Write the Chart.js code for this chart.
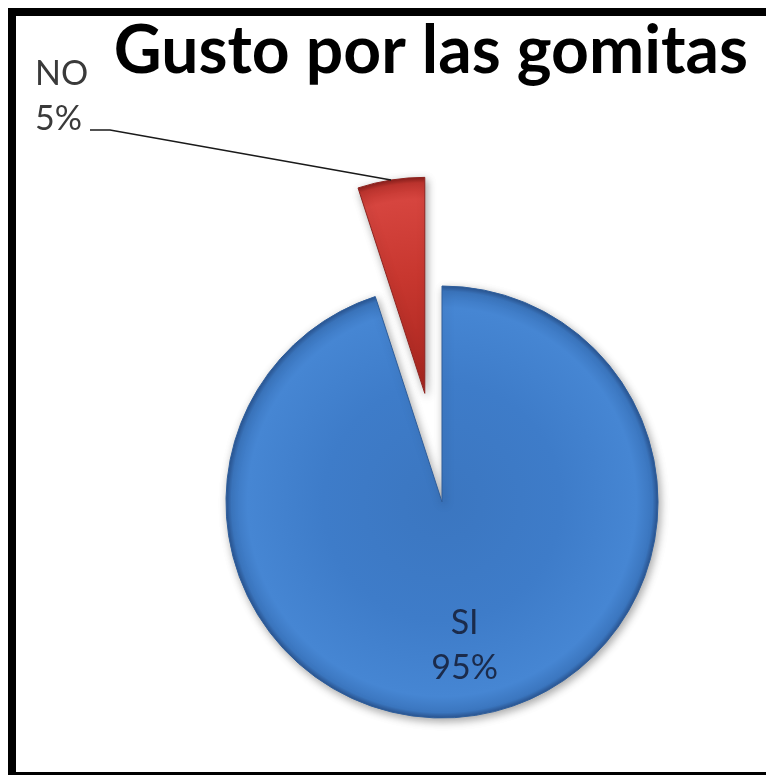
<!DOCTYPE html>
<html>
<head>
<meta charset="utf-8">
<script src="https://cdn.jsdelivr.net/npm/chart.js@4.4.1/dist/chart.umd.min.js"></script>
<style>
  html, body { margin: 0; padding: 0; background: #fff; }
  canvas { display: block; }
</style>
</head>
<body>
<canvas id="c" width="766" height="775"></canvas>
<script>
// ---- data ----
const chartTitle = 'Gusto por las gomitas';
const categories = ['SI', 'NO'];
const values = [95, 5];

// ---- style ----
const PIE_RADIUS = 216;
const shades = [
  ['#3b76c0', '#3e7cc9', '#4686d3', '#3b76bf', '#2a5592'],
  ['#a8261f', '#c8372f', '#d6453f', '#c0352f', '#8a201c']
];
const borderColors = ['#2e5e9c', '#8e2420'];

// Pie controller whose slices can be pulled out by a given distance
const PieCtl = Chart.PieController || Chart.controllers.pie;
class ExplodedPieController extends PieCtl {
  draw() {
    const ctx = this.chart.ctx;
    const meta = this._cachedMeta;
    const explode = this.getDataset().explode || [];
    meta.data.forEach((arc, i) => {
      const e = explode[i] || 0;
      const mid = (arc.startAngle + arc.endAngle) / 2;
      ctx.save();
      ctx.translate(Math.cos(mid) * e, Math.sin(mid) * e);
      arc.draw(ctx, this.chart.chartArea);
      ctx.restore();
    });
  }
}
ExplodedPieController.id = 'explodedPie';
ExplodedPieController.defaults = PieCtl.defaults;
ExplodedPieController.overrides = PieCtl.overrides;
Chart.register(ExplodedPieController);

function sliceFill(c) {
  const chart = c.chart;
  const a = chart.chartArea;
  const s = shades[c.dataIndex % shades.length];
  if (!a) return s[1];
  const cx = (a.left + a.right) / 2, cy = (a.top + a.bottom) / 2;
  const g = chart.ctx.createRadialGradient(cx, cy, 0, cx, cy, PIE_RADIUS);
  g.addColorStop(0, s[0]);
  g.addColorStop(0.55, s[1]);
  g.addColorStop(0.9, s[2]);
  g.addColorStop(0.975, s[3]);
  g.addColorStop(1, s[4]);
  return g;
}

const framePlugin = {
  id: 'frame',
  beforeDraw(chart) {
    const ctx = chart.ctx;
    ctx.save();
    ctx.fillStyle = '#ffffff';
    ctx.fillRect(0, 0, chart.width, chart.height);
    ctx.fillStyle = '#000000';
    ctx.fillRect(8, 8, 8, chart.height - 8);
    ctx.fillRect(8, 8, chart.width - 8, 8);
    ctx.fillRect(8, chart.height - 3, chart.width - 8, 3);
    ctx.restore();
  },
  afterDraw(chart) {
    const ctx = chart.ctx;
    ctx.save();
    ctx.fillStyle = '#000000';
    ctx.font = 'bold 66px Lato, "Open Sans", sans-serif';
    ctx.textAlign = 'right';
    ctx.textBaseline = 'alphabetic';
    ctx.fillText(chartTitle, 748, 73);
    ctx.restore();
  }
};

const shadowPlugin = {
  id: 'pieShadow',
  beforeDatasetDraw(chart) {
    const ctx = chart.ctx;
    ctx.save();
    ctx.shadowColor = 'rgba(0,0,0,0.35)';
    ctx.shadowBlur = 8;
    ctx.shadowOffsetX = 2;
    ctx.shadowOffsetY = 3;
  },
  afterDatasetDraw(chart) {
    chart.ctx.restore();
  }
};

const labelPlugin = {
  id: 'sliceLabels',
  afterDatasetsDraw(chart) {
    const ctx = chart.ctx;
    const meta = chart.getDatasetMeta(0);
    const ds = chart.data.datasets[0];
    const total = ds.data.reduce((s, v) => s + v, 0);
    ctx.save();
    ctx.font = '34px Lato, "Open Sans", sans-serif';
    ctx.textBaseline = 'alphabetic';
    meta.data.forEach((arc, i) => {
      const name = chart.data.labels[i];
      const pct = Math.round(ds.data[i] * 100 / total) + '%';
      const mid = (arc.startAngle + arc.endAngle) / 2;
      const e = (ds.explode || [])[i] || 0;
      if (e === 0) {
        const rr = arc.outerRadius * 0.67;
        const x = arc.x + Math.cos(mid) * rr;
        const y = arc.y + Math.sin(mid) * rr;
        ctx.fillStyle = '#1b2b4b';
        ctx.textAlign = 'center';
        ctx.fillText(name, x, y - 11);
        ctx.fillText(pct, x, y + 34);
      } else {
        const ax = arc.x + Math.cos(mid) * (e + arc.outerRadius);
        const ay = arc.y + Math.sin(mid) * (e + arc.outerRadius);
        ctx.fillStyle = '#3a3a3a';
        ctx.textAlign = 'left';
        ctx.fillText(name, 35, 85);
        ctx.fillText(pct, 35, 130);
        ctx.strokeStyle = '#1a1a1a';
        ctx.lineWidth = 1.5;
        ctx.beginPath();
        ctx.moveTo(90, 130);
        ctx.lineTo(110, 130);
        ctx.lineTo(ax, ay);
        ctx.stroke();
      }
    });
    ctx.restore();
  }
};

new Chart(document.getElementById('c'), {
  type: 'explodedPie',
  data: {
    labels: categories,
    datasets: [{
      data: values,
      explode: [0, 110],
      backgroundColor: sliceFill,
      borderColor: borderColors,
      borderWidth: 1,
      offset: 0
    }]
  },
  options: {
    responsive: false,
    animation: false,
    devicePixelRatio: 1,
    events: [],
    radius: PIE_RADIUS,
    layout: { padding: { left: 136, right: 18, top: 229, bottom: 0 } },
    plugins: {
      legend: { display: false },
      tooltip: { enabled: false },
      title: { display: false }
    }
  },
  plugins: [framePlugin, shadowPlugin, labelPlugin]
});
</script>
</body>
</html>
